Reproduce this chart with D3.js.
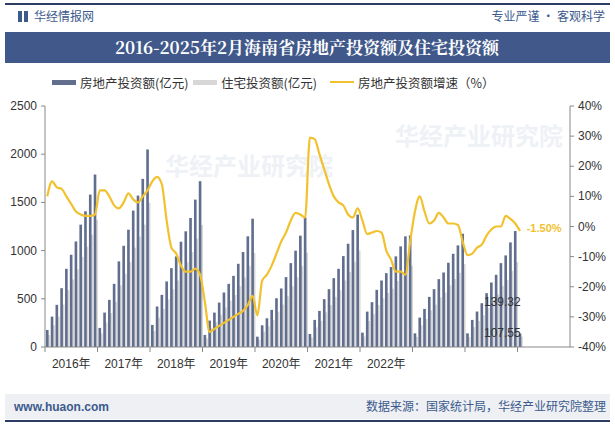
<!DOCTYPE html>
<html><head><meta charset="utf-8">
<script src="https://cdn.jsdelivr.net/npm/d3@7"></script>
<style>body{margin:0;background:#fff}svg{display:block;font-family:"Noto Sans CJK SC","Noto Sans",sans-serif}</style>
</head><body>
<script>
var years = ['2016年','2017年','2018年','2019年','2020年','2021年','2022年','2023年','2024年'];
var shownYears = 7; // later year labels are hidden under the watermark in the source
// cumulative monthly values (Jan-Feb, Mar ... Dec), 亿元
var invest = [
  177,315,437,610,811,957,1095,1269,1408,1581,1789,
  198,357,489,655,888,1050,1217,1415,1571,1744,2049,
  229,420,541,680,818,940,1092,1200,1338,1529,1720,
  125,274,357,461,565,655,738,863,985,1148,1331,
  107,225,298,385,506,607,725,870,999,1155,1345,
  135,281,374,496,600,714,811,943,1071,1213,1373,
  149,367,465,593,690,766,829,940,1044,1148,1158,
  142,305,395,520,600,704,773,874,967,1054,1175,
  142,281,368,454,558,669,749,870,950,1085,1203,
  139.32
];
var housing = [
  125,225,315,440,590,700,805,935,1040,1165,1320,
  140,255,350,470,640,760,880,1030,1145,1270,1495,
  165,305,395,495,600,690,800,880,985,1125,1265,
  90,200,260,335,410,480,540,630,720,840,975,
  75,160,215,280,365,440,525,630,725,840,980,
  100,205,270,360,435,520,590,690,780,885,1000,
  110,270,340,435,505,560,605,685,760,835,845,
  105,225,290,380,440,515,565,640,705,770,860,
  105,205,270,330,405,485,545,635,695,790,880,
  107.55
];
var growth = [
  10,15,13,12.5,10,7.5,5,4,3.5,3.5,4,
  12,12,10,7,6,8,11,9,8,10,12,
  15,16.5,14,2,-7,-9,-13,-15,-15,-14,-16,
  -25,-35,-34,-33,-32,-31,-30,-29,-28,-26,-23,
  -29.5,-18,-16,-13,-9,-5,-2,2,4.5,4,3,
  29.5,29,24,19,14,10,8,7,4,3,6,
  2,-2.5,-2,-1.5,-2,-8,-11,-15,-15,-16,-5,
  5,10,5,1,2,4.5,3,1,1,0.5,-5,
  -9.5,-9,-7,-6,-3,-1,0,0,3.5,2.5,1,
  -1.5
];
var leftTicks = [0,500,1000,1500,2000,2500];
var rightTicks = [-40,-30,-20,-10,0,10,20,30,40];

var W = 615, H = 427;
var svg = d3.select('body').append('svg').attr('width', W).attr('height', H);

// header
svg.append('rect').attr('x',5).attr('y',3).attr('width',605).attr('height',2).attr('fill','#2c3e63');
svg.append('rect').attr('x',18).attr('y',11).attr('width',4).attr('height',11).attr('fill','#3c5a8c');
svg.append('rect').attr('x',24).attr('y',11).attr('width',4).attr('height',11).attr('fill','#3c5a8c');
svg.append('text').attr('x',34).attr('y',21).attr('font-size',12).attr('fill','#3c5a8c').text('华经情报网');
svg.append('text').attr('x',605).attr('y',21).attr('text-anchor','end').attr('font-size',12).attr('fill','#3c5a8c').text('专业严谨 • 客观科学');
svg.append('rect').attr('x',5).attr('y',32).attr('width',605).attr('height',31).attr('fill','#41598a');
svg.append('text').attr('x',307).attr('y',54).attr('text-anchor','middle').attr('font-size',17).attr('font-weight','bold')
  .attr('fill','#fff').attr('font-family','"Noto Serif CJK SC","Noto Sans CJK SC",serif').text('2016-2025年2月海南省房地产投资额及住宅投资额');

// legend
var lg = svg.append('g').attr('font-size',12.5).attr('fill','#333');
lg.append('rect').attr('x',52).attr('y',80).attr('width',24).attr('height',5).attr('fill','#616e8e');
lg.append('text').attr('x',80).attr('y',88).text('房地产投资额(亿元)');
lg.append('rect').attr('x',193).attr('y',80).attr('width',24).attr('height',5).attr('fill','#d7d7d7');
lg.append('text').attr('x',221).attr('y',88).text('住宅投资额(亿元)');
lg.append('rect').attr('x',330).attr('y',81).attr('width',24).attr('height',2).attr('fill','#f2c12e');
lg.append('text').attr('x',358).attr('y',88).text('房地产投资额增速（%）');

// scales
var x0 = 45, yearW = 52.5;
var n = invest.length;
var x = d3.scaleBand().domain(d3.range(n)).range([x0, x0 + yearW * n / 11]).paddingInner(0.45).paddingOuter(0.2);
var yL = d3.scaleLinear().domain([0,2500]).range([347,106]);
var yR = d3.scaleLinear().domain([-40,40]).range([347,106]);

// footer band
svg.append('rect').attr('x',5).attr('y',394).attr('width',605).attr('height',25).attr('fill','#eef0f4');
svg.append('rect').attr('x',5).attr('y',420).attr('width',605).attr('height',2).attr('fill','#2c3e63');
svg.append('text').attr('x',14).attr('y',411).attr('font-size',12).attr('font-weight','bold').attr('fill','#3c5a8c')
  .attr('font-family','"Liberation Sans",Arial,sans-serif').text('www.huaon.com');
svg.append('text').attr('x',606).attr('y',411).attr('text-anchor','end').attr('font-size',12).attr('fill','#3c5a8c').text('数据来源：国家统计局，华经产业研究院整理');

// watermark
svg.append('text').attr('x',395).attr('y',145).attr('font-size',24).attr('font-weight','bold').attr('fill','#eef1f6').text('华经产业研究院');
svg.append('text').attr('x',165).attr('y',175).attr('font-size',24).attr('font-weight','bold').attr('fill','#eef1f6').text('华经产业研究院');

// bars
var bw = x.bandwidth();
svg.append('g').selectAll('rect').data(housing).join('rect')
  .attr('x', function(d,i){ return x(i) + bw * 0.6; }).attr('width', bw)
  .attr('y', function(d){ return yL(d); }).attr('height', function(d){ return 347 - yL(d); })
  .attr('fill','#d7d7d7');
svg.append('g').selectAll('rect').data(invest).join('rect')
  .attr('x', function(d,i){ return x(i); }).attr('width', bw)
  .attr('y', function(d){ return yL(d); }).attr('height', function(d){ return 347 - yL(d); })
  .attr('fill','#616e8e');

// axes
var ax = svg.append('g').attr('font-size',12).attr('fill','#333').attr('font-family','"Liberation Sans",Arial,sans-serif');
ax.append('line').attr('x1',x0).attr('x2',x0).attr('y1',106).attr('y2',347).attr('stroke','#888');
ax.append('line').attr('x1',570).attr('x2',570).attr('y1',106).attr('y2',347).attr('stroke','#888');
ax.append('line').attr('x1',x0).attr('x2',570).attr('y1',347).attr('y2',347).attr('stroke','#888');
leftTicks.forEach(function(t){
  ax.append('line').attr('x1',x0-4).attr('x2',x0).attr('y1',yL(t)).attr('y2',yL(t)).attr('stroke','#888');
  ax.append('text').attr('x',x0-8).attr('y',yL(t)+4).attr('text-anchor','end').text(t);
});
rightTicks.forEach(function(t){
  ax.append('line').attr('x1',570).attr('x2',574).attr('y1',yR(t)).attr('y2',yR(t)).attr('stroke','#888');
  ax.append('text').attr('x',578).attr('y',yR(t)+4).text(t + '%');
});
d3.range(years.length + 1).forEach(function(i){
  var xx = x0 + yearW * i;
  ax.append('line').attr('x1',xx).attr('x2',xx).attr('y1',347).attr('y2',352).attr('stroke','#888');
});
years.slice(0, shownYears).forEach(function(y,i){
  ax.append('text').attr('x', x0 + yearW * (i + 0.5)).attr('y',368).attr('text-anchor','middle')
    .attr('font-family','"Liberation Sans","Noto Sans CJK SC",sans-serif').text(y);
});

// growth line
var line = d3.line().x(function(d,i){ return x(i) + bw / 2; }).y(function(d){ return yR(d); }).curve(d3.curveMonotoneX);
svg.append('path').datum(growth).attr('d', line).attr('fill','none').attr('stroke','#f2c12e').attr('stroke-width',2.2);

// end labels
var last = n - 1;
svg.append('text').attr('x', x(last) + 8).attr('y', yR(growth[last]) + 1).attr('font-size',11).attr('font-weight','bold')
  .attr('fill','#f2c12e').attr('font-family','"Liberation Sans",Arial,sans-serif').text(growth[last].toFixed(2) + '%');
svg.append('text').attr('x', x(last) + 2).attr('y', 306).attr('text-anchor','end').attr('font-size',12).attr('fill','#333')
  .attr('font-family','"Liberation Sans",Arial,sans-serif').text(invest[last]);
svg.append('text').attr('x', x(last) + 2).attr('y', 337).attr('text-anchor','end').attr('font-size',12).attr('fill','#333')
  .attr('font-family','"Liberation Sans",Arial,sans-serif').text(housing[last]);
</script>
</body></html>
